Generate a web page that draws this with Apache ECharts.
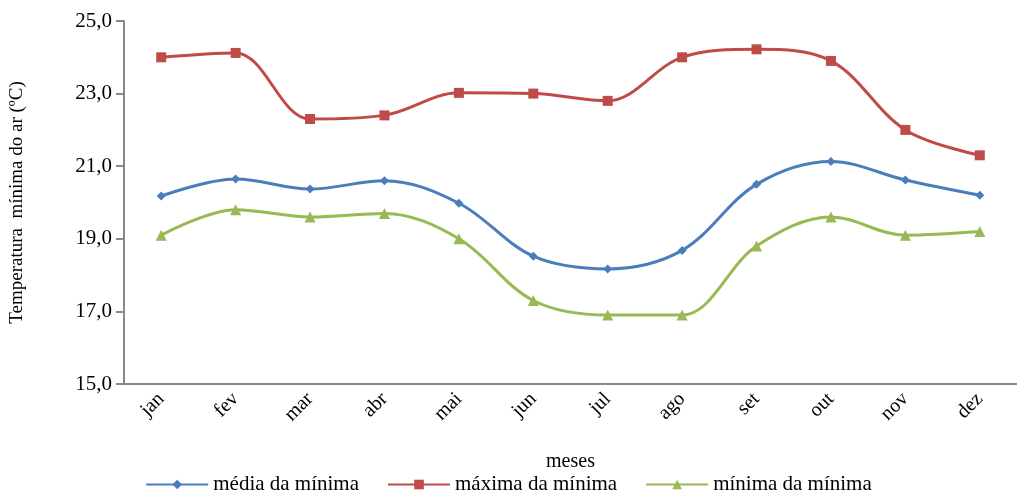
<!DOCTYPE html>
<html><head><meta charset="utf-8">
<script src="https://cdn.jsdelivr.net/npm/echarts@6/dist/echarts.min.js"></script>
<style>html,body{margin:0;padding:0;background:#fff}#c{width:1017px;height:501px}</style>
</head><body><div id="c"></div>
<script>
const categories = ['jan','fev','mar','abr','mai','jun','jul','ago','set','out','nov','dez'];
const mediaMinima = [20.18, 20.65, 20.37, 20.6, 19.98, 18.52, 18.17, 18.68, 20.5, 21.13, 20.62, 20.2];
const maximaMinima = [24.0, 24.12, 22.3, 22.4, 23.02, 23.0, 22.8, 24.0, 24.22, 23.9, 22.0, 21.3];
const minimaMinima = [19.1, 19.8, 19.6, 19.7, 19.0, 17.3, 16.9, 16.9, 18.8, 19.6, 19.1, 19.2];
const seriesNames = ['média da mínima', 'máxima da mínima', 'mínima da mínima'];
const yTicks = {min: 15, max: 25, interval: 2};

const font = 'Liberation Serif';
const chart = echarts.init(document.getElementById('c'));
function mk(name, data, color, symbol, size) {
  return {name, type: 'line', data, smooth: 0.35, symbol, symbolSize: size,
    lineStyle: {color, width: 3}, itemStyle: {color}, z: 3};
}
chart.setOption({
  animation: false,
  textStyle: {fontFamily: font, color: '#000'},
  grid: {left: 121, top: 21, width: 902, height: 363, containLabel: false},
  legend: {bottom: 1, left: 'center', itemWidth: 62, itemHeight: 12, itemGap: 28,
    textStyle: {fontFamily: font, fontSize: 21, color: '#000'},
    data: seriesNames},
  xAxis: {type: 'category', data: categories, boundaryGap: true,
    name: 'meses', nameLocation: 'middle', nameGap: 68,
    nameTextStyle: {fontFamily: font, fontSize: 20, color: '#000'},
    axisLine: {lineStyle: {color: '#898989', width: 2}},
    axisTick: {show: false},
    axisLabel: {rotate: 45, fontFamily: font, fontSize: 20, color: '#000', margin: 12}},
  yAxis: {type: 'value', min: yTicks.min, max: yTicks.max, interval: yTicks.interval,
    name: 'Temperatura  mínima do ar (ºC)', nameLocation: 'middle', nameGap: 97, nameRotate: 90,
    nameTextStyle: {fontFamily: font, fontSize: 19, color: '#000'},
    axisLine: {show: true, lineStyle: {color: '#898989', width: 2}},
    axisTick: {show: true, length: 8, lineStyle: {color: '#898989', width: 2}},
    splitLine: {show: false},
    axisLabel: {fontFamily: font, fontSize: 21, color: '#000', margin: 12,
      formatter: v => v.toFixed(1).replace('.', ',')}},
  series: [
    mk(seriesNames[0], mediaMinima, '#4a7ebb', 'diamond', 9),
    mk(seriesNames[1], maximaMinima, '#be4b48', 'rect', 10),
    mk(seriesNames[2], minimaMinima, '#98b954', 'triangle', 11)
  ]
});
</script></body></html>
